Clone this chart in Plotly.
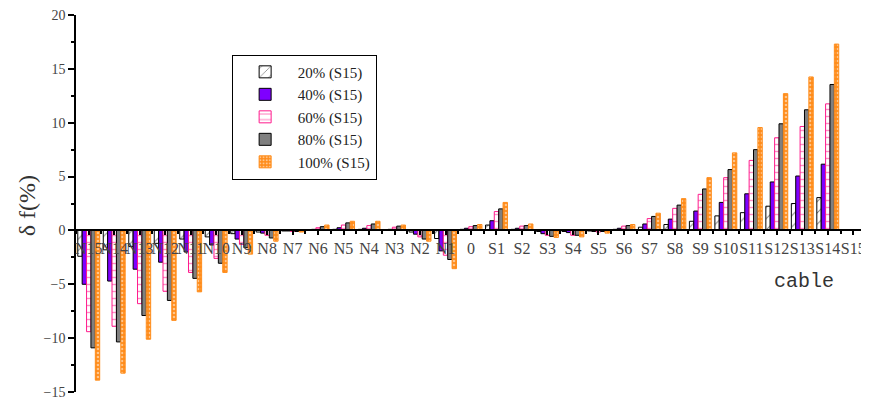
import plotly.graph_objects as go

categories = ["N15", "N14", "N13", "N12", "N11", "N10", "N9", "N8", "N7", "N6", "N5", "N4", "N3", "N2", "N1",
              "0", "S1", "S2", "S3", "S4", "S5", "S6", "S7", "S8", "S9", "S10", "S11", "S12", "S13", "S14", "S15"]

s20 = [-2.4, -1.8, -1.5, -1.2, -0.8, -0.6, -0.3, -0.15, -0.05, 0.05, 0.1, 0.1, 0.05, -0.15, -0.75,
       0.1, 0.5, 0.1, -0.1, -0.1, -0.05, 0.1, 0.3, 0.55, 0.85, 1.35, 1.65, 2.25, 2.5, 3.05, 0]
s40 = [-5.0, -4.7, -3.6, -2.95, -2.0, -1.35, -0.8, -0.25, -0.05, 0.1, 0.25, 0.2, 0.1, -0.35, -1.9,
       0.2, 0.9, 0.2, -0.3, -0.2, -0.1, 0.2, 0.6, 1.05, 1.8, 2.6, 3.4, 4.5, 5.05, 6.15, 0]
s60 = [-9.4, -8.9, -6.8, -5.65, -3.9, -2.6, -1.3, -0.45, -0.1, 0.25, 0.5, 0.45, 0.3, -0.6, -2.3,
       0.35, 1.75, 0.4, -0.45, -0.45, -0.15, 0.4, 1.1, 2.05, 3.35, 4.9, 6.5, 8.6, 9.65, 11.75, 0]
s80 = [-10.9, -10.35, -7.9, -6.5, -4.45, -3.05, -1.6, -0.7, -0.1, 0.35, 0.7, 0.6, 0.4, -0.8, -2.7,
       0.45, 2.0, 0.45, -0.55, -0.45, -0.1, 0.45, 1.3, 2.35, 3.85, 5.65, 7.5, 9.9, 11.2, 13.55, 0]
s100 = [-13.9, -13.25, -10.1, -8.35, -5.7, -3.9, -2.2, -1.0, -0.15, 0.5, 0.85, 0.85, 0.5, -1.0, -3.55,
        0.55, 2.6, 0.6, -0.65, -0.6, -0.25, 0.55, 1.6, 2.95, 4.9, 7.2, 9.55, 12.7, 14.25, 17.3, 0]

series_names = ["20% (S15)", "40% (S15)", "60% (S15)", "80% (S15)", "100% (S15)"]

xpos = list(range(len(categories)))
serif = "Liberation Serif"

styles = [
    dict(color="white", line=dict(color="black", width=1),
         pattern=dict(shape="/", fgcolor="black", bgcolor="white", size=8, solidity=0.12)),
    dict(color="#7F00FF", line=dict(color="black", width=1)),
    dict(color="white", line=dict(color="#FF1A8C", width=1),
         pattern=dict(shape="-", fgcolor="#FF1A8C", bgcolor="white", size=7, solidity=0.2)),
    dict(color="#808080", line=dict(color="black", width=1)),
    dict(color="#FF8C1A", line=dict(color="#FF8C1A", width=1),
         pattern=dict(shape=".", fgcolor="white", bgcolor="#FF8C1A", size=4, solidity=0.35)),
]

fig = go.Figure()
for name, vals, st in zip(series_names, [s20, s40, s60, s80, s100], styles):
    fig.add_trace(go.Bar(x=xpos, y=vals, name=name, marker=st))

# the page body has an 8px default margin, so the figure is sized/offset to compensate
W, H = 861, 397
ml, mr, mt, mb = 68, 2.5, 6.5, 12.5
ymin, ymax = -15, 20

fig.update_layout(
    width=W, height=H,
    margin=dict(l=ml, r=mr, t=mt, b=mb, pad=0, autoexpand=False),
    paper_bgcolor="white", plot_bgcolor="white",
    barmode="group", bargap=0.14, bargroupgap=0,
    font=dict(family=serif, size=15, color="#333333"),
    showlegend=True,
    legend=dict(x=0.197, y=0.895, xanchor="left", yanchor="top",
                bordercolor="black", borderwidth=1, bgcolor="white",
                font=dict(family=serif, size=15, color="#222222"),
                itemwidth=55, tracegroupgap=0),
    xaxis=dict(
        range=[-0.5, len(categories) - 0.5],
        tickmode="array", tickvals=xpos, ticktext=categories, tickangle=0,
        anchor="free", position=(0 - ymin) / (ymax - ymin),
        showline=True, linecolor="black", linewidth=1.5,
        ticks="outside", ticklen=4, tickcolor="black", tickwidth=1.5,
        minor=dict(ticks="outside", ticklen=3, tickcolor="black", dtick=0.5, tick0=-0.5),
        showgrid=False, zeroline=False, automargin=False,
        tickfont=dict(family=serif, size=16, color="#444444"),
    ),
    yaxis=dict(
        range=[ymin, ymax], domain=[0, 1],
        tickmode="linear", tick0=0, dtick=5,
        showline=True, linecolor="black", linewidth=1.5,
        ticks="outside", ticklen=6, tickcolor="black", tickwidth=1.5,
        minor=dict(ticks="outside", ticklen=3, tickcolor="black", dtick=2.5),
        showgrid=False, zeroline=False, automargin=False, ticklabeloverflow="allow",
        tickfont=dict(family=serif, size=14, color="#444444"),
    ),
    annotations=[
        dict(text="δ f(%)", xref="paper", yref="paper", x=-0.061, y=0.495,
             textangle=-90, showarrow=False, xanchor="center", yanchor="middle",
             font=dict(family=serif, size=24, color="#333333")),
        dict(text="cable", xref="paper", yref="paper", x=0.922, y=0.293,
             showarrow=False, xanchor="center", yanchor="middle",
             font=dict(family="Liberation Mono", size=20, color="#333333")),
    ],
)

fig.write_html("out.html")
